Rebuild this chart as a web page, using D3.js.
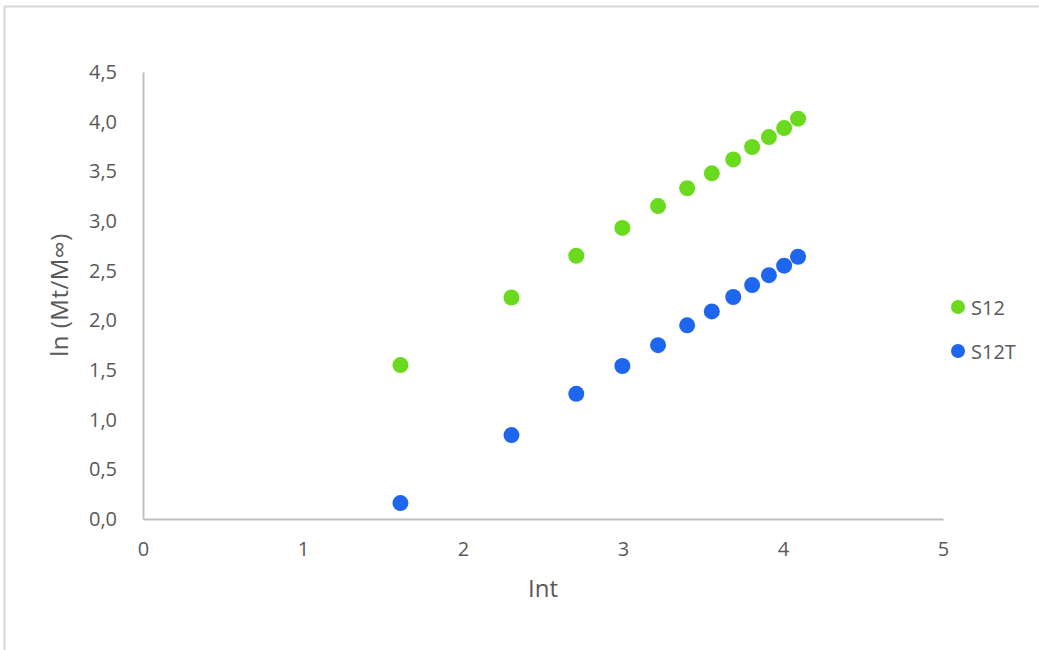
<!DOCTYPE html>
<html>
<head>
<meta charset="utf-8">
<script src="https://cdn.jsdelivr.net/npm/d3@7"></script>
<style>
  body { margin: 0; background: #fff; }
  text { font-family: "Open Sans", "Noto Sans", sans-serif; fill: #595959; }
</style>
</head>
<body>
<div id="container"></div>
<script>
/* DATA */
const lnT = [1.609, 2.303, 2.708, 2.996, 3.219, 3.401, 3.555, 3.689, 3.807, 3.912, 4.007, 4.094];
const s12 = [1.55, 2.23, 2.65, 2.93, 3.15, 3.33, 3.48, 3.62, 3.745, 3.845, 3.935, 4.03];
const s12T = [0.16, 0.845, 1.26, 1.54, 1.75, 1.95, 2.09, 2.235, 2.355, 2.455, 2.55, 2.64];
const xTicks = [0, 1, 2, 3, 4, 5];
const yTicks = [0, 0.5, 1, 1.5, 2, 2.5, 3, 3.5, 4, 4.5];
const seriesNames = ["S12", "S12T"];
const seriesColors = ["#6ADA1F", "#1F66EE"];

/* CONSTANTS */
const width = 1039;
const height = 650;
const margin = { top: 72, right: 95, bottom: 131, left: 143 };

const svg = d3.select("#container")
  .append("svg")
  .attr("width", width)
  .attr("height", height)

// chart frame (only left/top visible in the shot)
svg.append("rect")
  .attr("x", 4.5)
  .attr("y", 6.5)
  .attr("width", 1200)
  .attr("height", 800)
  .attr("fill", "none")
  .attr("stroke", "#d9d9d9")
  .attr("stroke-width", 2)

/* SCALES */
const xScale = d3.scaleLinear()
  .domain([0, 5])
  .range([margin.left, width - margin.right - 1])

const yScale = d3.scaleLinear()
  .domain([0, 4.5])
  .range([height - margin.bottom, margin.top])

const fmt = d => d3.format(".1f")(d).replace(".", ",")

// X-axis
const xAxis = svg.append("g")
  .attr("class", "x-axis")
  .attr("transform", `translate(0,${yScale(0)})`)
  .call(d3.axisBottom(xScale).tickValues(xTicks).tickSize(0).tickPadding(23).tickFormat(d3.format("d")))
xAxis.select(".domain").attr("stroke", "#bfbfbf").attr("stroke-width", 2)
xAxis.selectAll("text").style("font-size", "20px").attr("fill", "#595959")

// Y-axis
const yAxis = svg.append("g")
  .attr("class", "y-axis")
  .attr("transform", `translate(${xScale(0)},0)`)
  .call(d3.axisLeft(yScale).tickValues(yTicks).tickSize(0).tickPadding(26).tickFormat(fmt))
yAxis.select(".domain").attr("stroke", "#bfbfbf").attr("stroke-width", 2)
yAxis.selectAll("text").style("font-size", "20px").attr("fill", "#595959")

// axis titles
svg.append("text")
  .attr("x", 543)
  .attr("y", 597)
  .attr("text-anchor", "middle")
  .style("font-size", "24px")
  .text("Int")

svg.append("text")
  .attr("transform", "translate(68,295) rotate(-90)")
  .attr("text-anchor", "middle")
  .style("font-size", "24px")
  .style("letter-spacing", "0.5px")
  .text("ln (Mt/M∞)")

// Scatter
const series = [s12, s12T]
series.forEach((vals, i) => {
  svg.append("g")
    .selectAll("circle")
    .data(vals)
    .join("circle")
    .attr("cx", (d, j) => xScale(lnT[j]))
    .attr("cy", d => yScale(d))
    .attr("r", 8)
    .attr("fill", seriesColors[i])
})

// Legend
const legend = svg.append("g")
  .selectAll("g")
  .data(seriesNames)
  .join("g")
  .attr("transform", (d, i) => `translate(958,${307 + i * 44})`)

legend.append("circle")
  .attr("r", 7)
  .attr("fill", (d, i) => seriesColors[i])

legend.append("text")
  .attr("x", 13)
  .attr("y", 7.5)
  .style("font-size", "20px")
  .text(d => d)
</script>
</body>
</html>
